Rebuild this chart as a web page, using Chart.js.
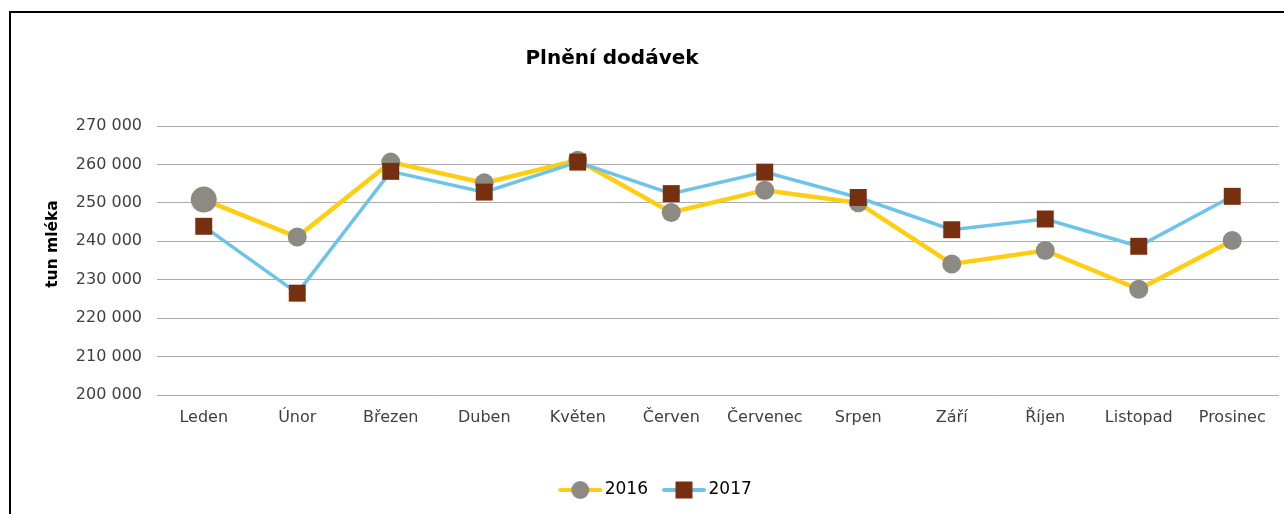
<!DOCTYPE html>
<html>
<head>
<meta charset="utf-8">
<script src="https://cdn.jsdelivr.net/npm/chart.js@4"></script>
<style>
  html, body { margin: 0; padding: 0; background: #fff; overflow: hidden; }
  #frame { position: absolute; left: 9px; top: 11px; width: 1300px; height: 530px; border: 2px solid #000; }
  #wrap { position: absolute; left: 0; top: 0; width: 1284px; height: 514px; }
</style>
</head>
<body>
<div id="frame"></div>
<div id="wrap"><canvas id="graf"></canvas></div>
<script>
const mesice = ['Leden', 'Únor', 'Březen', 'Duben', 'Květen', 'Červen', 'Červenec', 'Srpen', 'Září', 'Říjen', 'Listopad', 'Prosinec'];
const roky = ['2016', '2017'];
const dodavky2016 = [250850, 241100, 260600, 255200, 261100, 247500, 253300, 250000, 234100, 237600, 227500, 240200];
const dodavky2017 = [243900, 226500, 258200, 252800, 260600, 252400, 258000, 251400, 243000, 245800, 238700, 251700];
const osaMin = 200000;
const osaMax = 270000;
const osaKrok = 10000;

const ZLUTA = '#FFCD11';
const SEDA = '#8C8A83';
const MODRA = '#6EC4E8';
const HNEDA = '#77300F';
const PISMO = '"DejaVu Sans", Verdana, sans-serif';

Chart.defaults.font.family = PISMO;
Chart.defaults.color = '#404040';

// ikonka do legendy: cara + znacka
function ikona(barvaCary, barvaZnacky, kruh) {
    const c = document.createElement('canvas');
    c.width = 46;
    c.height = 20;
    const ctx = c.getContext('2d');
    ctx.strokeStyle = barvaCary;
    ctx.lineWidth = 4;
    ctx.lineCap = 'round';
    ctx.beginPath();
    ctx.moveTo(3, 10);
    ctx.lineTo(43, 10);
    ctx.stroke();
    ctx.fillStyle = barvaZnacky;
    if (kruh) {
        ctx.beginPath();
        ctx.arc(23, 10, 9, 0, Math.PI * 2);
        ctx.fill();
    } else {
        ctx.fillRect(14.5, 1.5, 17, 17);
    }
    return c;
}
const ikony = [ikona(ZLUTA, SEDA, true), ikona(MODRA, HNEDA, false)];

// posun titulku a legendy jako v puvodnim grafu, popisek osy y
const rozvrzeni = {
    id: 'rozvrzeni',
    afterLayout(chart) {
        const t = chart.titleBlock;
        const tw = t.right - t.left;
        t.left = 612 - tw / 2;
        t.right = 612 + tw / 2;
        const l = chart.legend;
        const lw = l.right - l.left;
        l.left = 658 - lw / 2;
        l.right = 658 + lw / 2;
        l.top -= 5.5;
        l.bottom -= 5.5;
    },
    afterDraw(chart) {
        const ctx = chart.ctx;
        ctx.save();
        ctx.translate(53, 244);
        ctx.rotate(-Math.PI / 2);
        ctx.font = 'bold 15.5px ' + PISMO;
        ctx.fillStyle = '#000';
        ctx.textAlign = 'center';
        ctx.textBaseline = 'middle';
        ctx.fillText('tun mléka', 0, 0);
        ctx.restore();
    }
};

new Chart(document.getElementById('graf'), {
    type: 'line',
    data: {
        labels: mesice,
        datasets: [{
            label: roky[0],
            data: dodavky2016,
            borderColor: ZLUTA,
            borderWidth: 4.5,
            pointStyle: 'circle',
            pointRadius: ctx => ctx.dataIndex === 0 ? 13 : 9.5,
            pointHoverRadius: ctx => ctx.dataIndex === 0 ? 13 : 9.5,
            pointBackgroundColor: SEDA,
            pointBorderColor: SEDA,
            pointBorderWidth: 0,
            tension: 0,
            order: 1
        }, {
            label: roky[1],
            data: dodavky2017,
            borderColor: MODRA,
            borderWidth: 3.5,
            pointStyle: 'rect',
            pointRadius: 12,
            pointHoverRadius: 12,
            pointBackgroundColor: HNEDA,
            pointBorderColor: HNEDA,
            pointBorderWidth: 0,
            tension: 0,
            order: 0
        }]
    },
    plugins: [rozvrzeni],
    options: {
        responsive: true,
        maintainAspectRatio: false,
        animation: false,
        layout: { autoPadding: false, padding: { left: 44, right: 5, top: 0, bottom: 0 } },
        plugins: {
            title: {
                display: true,
                text: 'Plnění dodávek',
                color: '#000',
                font: { size: 20, weight: 'bold' },
                padding: { top: 47, bottom: 55 }
            },
            legend: {
                position: 'bottom',
                labels: {
                    usePointStyle: true,
                    pointStyleWidth: 32,
                    padding: 20,
                    color: '#000',
                    font: { size: 17 },
                    sort: (a, b) => a.datasetIndex - b.datasetIndex,
                    generateLabels: chart => {
                        const polozky = Chart.defaults.plugins.legend.labels.generateLabels(chart);
                        polozky.forEach(p => { p.pointStyle = ikony[p.datasetIndex]; });
                        return polozky;
                    }
                }
            },
            tooltip: { enabled: false }
        },
        scales: {
            x: {
                offset: true,
                grid: { display: false, drawTicks: false },
                border: { display: false },
                ticks: { padding: 13, font: { size: 16 }, maxRotation: 0, autoSkip: false },
                afterFit: scale => { scale.height = 72; }
            },
            y: {
                min: osaMin,
                max: osaMax,
                grid: { color: '#ababab', lineWidth: 1, drawTicks: false },
                border: { display: false },
                ticks: {
                    stepSize: osaKrok,
                    padding: 15,
                    font: { size: 16 },
                    callback: v => String(v).replace(/\B(?=(\d{3})+(?!\d))/g, ' ')
                },
                afterFit: scale => { scale.width = 113; }
            }
        }
    }
});
</script>
</body>
</html>
